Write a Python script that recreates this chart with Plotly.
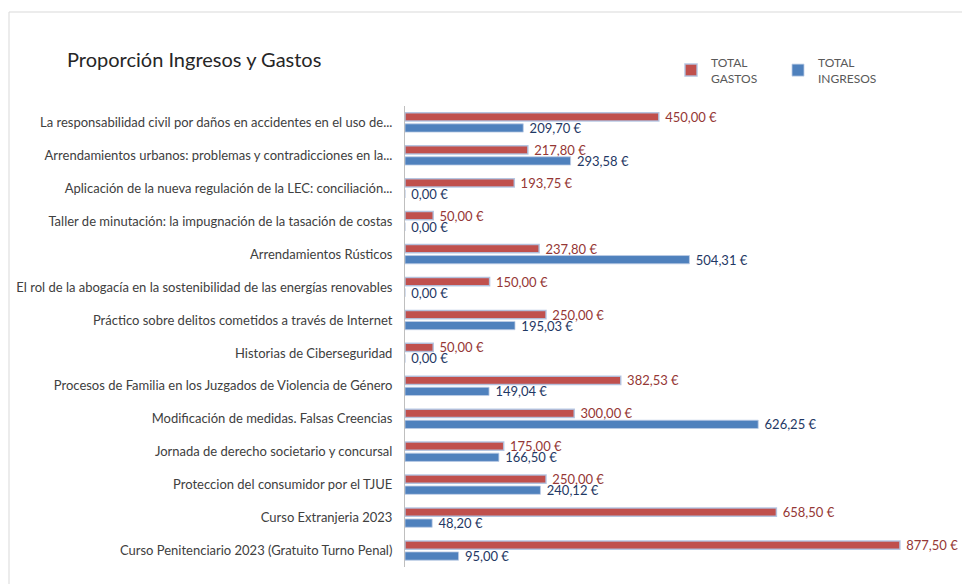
import plotly.graph_objects as go

categories = [
    "La responsabilidad civil por daños en accidentes en el uso de...",
    "Arrendamientos urbanos: problemas y contradicciones en la...",
    "Aplicación de la nueva regulación de la LEC: conciliación...",
    "Taller de minutación: la impugnación de la tasación de costas",
    "Arrendamientos Rústicos",
    "El rol de la abogacía en la sostenibilidad de las energías renovables",
    "Práctico sobre delitos cometidos a través de Internet",
    "Historias de Ciberseguridad",
    "Procesos de Familia en los Juzgados de Violencia de Género",
    "Modificación de medidas. Falsas Creencias",
    "Jornada de derecho societario y concursal",
    "Proteccion del consumidor por el TJUE",
    "Curso Extranjeria 2023",
    "Curso Penitenciario 2023 (Gratuito Turno Penal)",
]
total_gastos = [450.00, 217.80, 193.75, 50.00, 237.80, 150.00, 250.00, 50.00,
                382.53, 300.00, 175.00, 250.00, 658.50, 877.50]
total_ingresos = [209.70, 293.58, 0.00, 0.00, 504.31, 0.00, 195.03, 0.00,
                  149.04, 626.25, 166.50, 240.12, 48.20, 95.00]


def fmt(v):
    return "\u00a0" + f"{v:.2f}".replace(".", ",") + " €"


FONT = "Lato"
W, H = 962, 584
L, R, T, B = 405, 0, 106, 17
pw = W - L - R
ph = H - T - B

fig = go.Figure()
fig.add_trace(go.Bar(
    name="TOTAL<br>GASTOS", y=categories, x=total_gastos, orientation="h",
    marker=dict(color="#C0504D", line=dict(color="rgba(175,195,225,0.9)", width=1.5)),
    text=[fmt(v) for v in total_gastos], textposition="outside",
    textfont=dict(color="#953735", size=13, family=FONT),
    constraintext="none", cliponaxis=False,
))
fig.add_trace(go.Bar(
    name="TOTAL<br>INGRESOS", y=categories, x=total_ingresos, orientation="h",
    marker=dict(color="#4F81BD", line=dict(color="rgba(190,205,230,0.8)", width=1)),
    text=[fmt(v) for v in total_ingresos], textposition="outside",
    textfont=dict(color="#1F3864", size=13, family=FONT),
    constraintext="none", cliponaxis=False,
))


def px_x(x):
    return (x - L) / pw


def px_y(y):
    return (H - B - y) / ph


# frame lines (top and left of the chart frame)
fig.add_shape(type="line", xref="paper", yref="paper",
              x0=px_x(9), x1=px_x(970), y0=px_y(12), y1=px_y(12),
              line=dict(color="#d9d9d9", width=1))
fig.add_shape(type="line", xref="paper", yref="paper",
              x0=px_x(9), x1=px_x(9), y0=px_y(12), y1=px_y(600),
              line=dict(color="#d9d9d9", width=1))

fig.update_layout(
    width=W, height=H,
    margin=dict(l=L, r=R, t=T, b=B, autoexpand=False),
    paper_bgcolor="white", plot_bgcolor="white",
    barmode="group", bargap=0.33, bargroupgap=0.25,
    font=dict(family=FONT, size=13, color="#404040"),
    title=dict(text="Proporción Ingresos y Gastos", x=67 / W, xanchor="left",
               xref="container", y=1 - 60 / H, yanchor="middle",
               font=dict(size=20, color="#262626", family=FONT)),
    legend=dict(orientation="h", x=px_x(671), xanchor="left",
                y=px_y(48), yanchor="top", entrywidth=62,
                font=dict(size=12, color="#595959", family=FONT),
                traceorder="normal", itemwidth=30),
    showlegend=True,
)
fig.update_xaxes(range=[0, pw / 0.564], showgrid=False, showticklabels=False,
                 zeroline=False, showline=False)
fig.update_yaxes(autorange="reversed", showgrid=False, showline=True,
                 linecolor="#bfbfbf", linewidth=1, ticks="",
                 ticklabelstandoff=9,
                 tickfont=dict(size=13, color="#404040", family=FONT))

fig.write_html("out.html", config={"displayModeBar": False},
               post_script="document.body.style.margin='0';")
